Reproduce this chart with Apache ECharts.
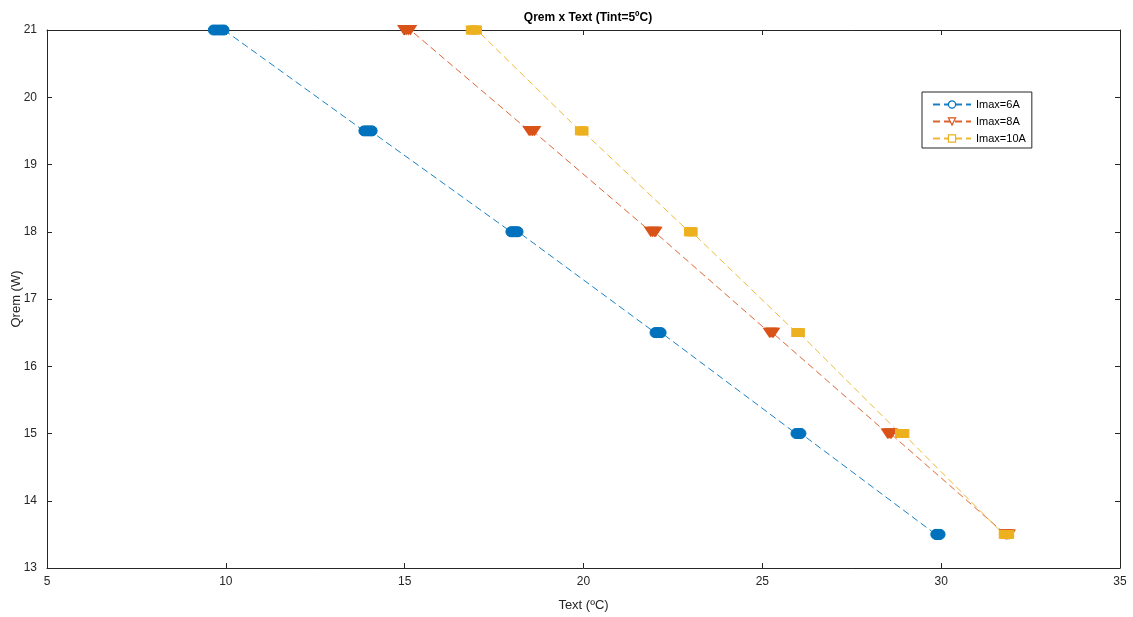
<!DOCTYPE html>
<html>
<head>
<meta charset="utf-8">
<script src="https://cdn.jsdelivr.net/npm/echarts@6/dist/echarts.min.js"></script>
<style>
html,body{margin:0;padding:0;background:#fff;}
#chart{width:1133px;height:617px;}
</style>
</head>
<body>
<div id="chart"></div>
<script>
// Qrem levels (W) shared by all series
const qremLevels = [21, 19.5, 18, 16.5, 15, 13.5];
// Text values (ºC) per Qrem level (several close readings per level)
const text6A = [
  [9.65, 9.72, 9.8, 9.88, 9.95],
  [13.86, 13.92, 13.98, 14.04, 14.09],
  [17.97, 18.02, 18.07, 18.12, 18.17],
  [22.0, 22.04, 22.08, 22.13, 22.17],
  [25.94, 25.98, 26.01, 26.05, 26.08],
  [29.85, 29.88, 29.91, 29.94, 29.97]
];
const text8A = [
  [14.98, 15.04, 15.1, 15.16],
  [18.48, 18.53, 18.58, 18.63],
  [21.88, 21.93, 21.98, 22.02],
  [25.2, 25.24, 25.28, 25.31],
  [28.5, 28.54, 28.58, 28.61],
  [31.8, 31.83, 31.86, 31.9]
];
const text10A = [
  [16.85, 16.9, 16.96, 17.02],
  [19.9, 19.94, 19.97, 20.0],
  [22.95, 22.99, 23.02, 23.05],
  [25.95, 25.99, 26.02, 26.05],
  [28.85, 28.89, 28.93, 28.97],
  [31.75, 31.8, 31.85, 31.9]
];
const seriesNames = ['Imax=6A', 'Imax=8A', 'Imax=10A'];
const seriesColors = ['#0072BD', '#D95319', '#EDB120'];
const xTicks = [5, 10, 15, 20, 25, 30, 35];
const yTicks = [13, 14, 15, 16, 17, 18, 19, 20, 21];

function toPoints(groups) {
  const pts = [];
  groups.forEach((g, i) => g.forEach(x => pts.push([x, qremLevels[i]])));
  return pts;
}

const font = '"Liberation Sans", Arial, Helvetica, sans-serif';
const axisColor = '#262626';

const symbols = [
  {symbol: 'circle', size: 10, rotate: 0},
  {symbol: 'triangle', size: [12, 9], rotate: 180},
  {symbol: 'rect', size: [9, 8], rotate: 0}
];
const allData = [text6A, text8A, text10A];

const chart = echarts.init(document.getElementById('chart'), null, {renderer: 'canvas'});
const commonAxis = {
  axisLine: {show: true, lineStyle: {color: axisColor, width: 1}},
  axisTick: {show: true, inside: true, length: 5, lineStyle: {color: axisColor}},
  splitLine: {show: false}
};
chart.setOption({
  animation: false,
  backgroundColor: '#fff',
  title: {
    text: 'Qrem x Text (Tint=5ºC)',
    left: 583, top: 7, textAlign: 'center',
    textStyle: {fontFamily: font, fontSize: 12, fontWeight: 'bold', color: '#000'}
  },
  legend: {
    orient: 'vertical',
    left: 922, top: 92,
    padding: [7, 6, 4, 10],
    itemGap: 6,
    itemWidth: 38, itemHeight: 9,
    backgroundColor: '#fff',
    borderColor: axisColor, borderWidth: 1, borderRadius: 0,
    textStyle: {fontFamily: font, fontSize: 11, color: '#000'},
    data: seriesNames.map((n, i) => ({
      name: n,
      itemStyle: {color: '#fff', borderColor: seriesColors[i], borderWidth: 1.2}
    }))
  },
  grid: {left: 47, right: 13, top: 30, bottom: 49, containLabel: false, outerBoundsMode: 'none'},
  xAxis: [
    Object.assign({}, commonAxis, {
      type: 'value', min: 5, max: 35, interval: 5, position: 'bottom',
      name: 'Text (ºC)', nameLocation: 'middle', nameGap: 31, nameMoveOverlap: false,
      nameTextStyle: {fontFamily: font, fontSize: 13, color: axisColor},
      axisLabel: {fontFamily: font, fontSize: 12, color: axisColor, margin: 8,
        formatter: v => xTicks.includes(v) ? String(v) : ''}
    }),
    Object.assign({}, commonAxis, {
      type: 'value', min: 5, max: 35, interval: 5, position: 'top',
      axisLabel: {show: false}
    })
  ],
  yAxis: [
    Object.assign({}, commonAxis, {
      type: 'value', min: 13, max: 21, interval: 1, position: 'left',
      name: 'Qrem (W)', nameLocation: 'middle', nameGap: 24, nameRotate: 90, nameMoveOverlap: false,
      nameTextStyle: {fontFamily: font, fontSize: 13, color: axisColor},
      axisLabel: {fontFamily: font, fontSize: 12, color: axisColor, margin: 10,
        formatter: v => yTicks.includes(v) ? String(v) : ''}
    }),
    Object.assign({}, commonAxis, {
      type: 'value', min: 13, max: 21, interval: 1, position: 'right',
      axisLabel: {show: false}
    })
  ],
  series: seriesNames.map((n, i) => ({
    name: n,
    type: 'line',
    xAxisIndex: 0, yAxisIndex: 0,
    data: toPoints(allData[i]),
    symbol: symbols[i].symbol,
    symbolSize: symbols[i].size,
    symbolRotate: symbols[i].rotate,
    showAllSymbol: true,
    clip: false,
    color: seriesColors[i],
    itemStyle: {color: seriesColors[i], borderColor: seriesColors[i], borderWidth: 1},
    lineStyle: {color: seriesColors[i], width: 1, type: [7, 4], opacity: 0.9},
    emphasis: {disabled: true}
  }))
});
</script>
</body>
</html>
